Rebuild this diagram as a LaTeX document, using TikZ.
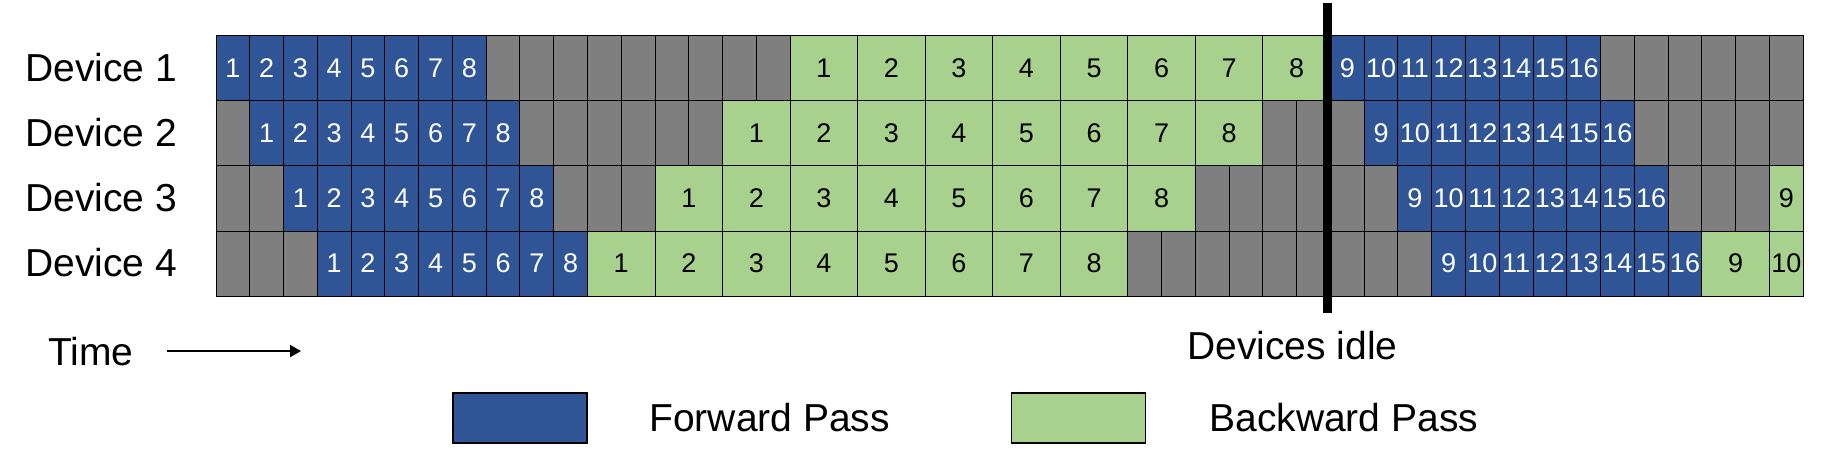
\documentclass[tikz,border=0pt]{standalone}
\usepackage{fontspec}
\setmainfont{Liberation Sans}
\usetikzlibrary{arrows.meta}
\definecolor{fwdblue}{HTML}{2F5597}
\definecolor{bwdgreen}{HTML}{A9D18E}
\definecolor{idlegray}{HTML}{7F7F7F}
\tikzset{
  cell/.style={draw=black, line width=0.5pt, inner sep=0pt, outer sep=0pt,
    minimum height=32.5pt, anchor=west, font=\fontsize{13.5}{14}\selectfont},
  idlebox/.style={cell, fill=idlegray, minimum width=16.885pt},
  fwd/.style={cell, fill=fwdblue, text=white, minimum width=16.885pt},
  bwd/.style={cell, fill=bwdgreen, minimum width=33.77pt},
  bwdcut/.style={cell, fill=bwdgreen, minimum width=16.885pt},
  txt/.style={inner sep=0pt, anchor=base west, font=\fontsize{19.5}{22}\selectfont},
  legbox/.style={draw=black, line width=0.7pt, minimum width=67pt, minimum height=25pt, inner sep=0pt},
  idleline/.style={line width=4.5pt},
  timearrow/.style={line width=1pt, -{Triangle[length=5.5pt,width=6pt]}}
}
\begin{document}
\begin{tikzpicture}[x=0.5pt, y=-0.5pt]
  \useasboundingbox (0,0) rectangle (1822,460);
  \foreach \d in {1,...,4} {
    \pgfmathsetmacro\yc{68.5+65*(\d-1)}
    \node[txt] (dev\d) at (25,{\yc+13.5}) {Device \d};
    \foreach \u in {0,...,46}
      \node[idlebox] (g\d-\u) at ({216+33.77*\u},\yc) {};
    \foreach \k in {1,...,8}
      \node[fwd] (f\d-\k) at ({216+33.77*(\d+\k-2)},\yc) {\k};
    \foreach \k in {1,...,8}
      \node[bwd] (b\d-\k) at ({216+33.77*(17-2*\d+2*\k)},\yc) {\k};
    \foreach \k in {9,...,16}
      \node[fwd] (f\d-\k) at ({216+33.77*(23+\d+\k)},\yc) {\k};
  }
  \node[bwdcut] (b3-9) at ({216+33.77*46},198.5) {9};
  \node[bwd] (b4-9) at ({216+33.77*44},263.5) {9};
  \node[bwdcut] (b4-10) at ({216+33.77*46},263.5) {10};
  \coordinate (idletop) at (1327.5,3);
  \coordinate (idlebot) at (1327.5,313);
  \draw[idleline] (idletop) -- (idlebot);
  \node[txt] (idle) at (1187,359) {Devices idle};
  \node[txt] (time) at (48,365) {Time};
  \coordinate (timeend) at ([xshift=83.5pt]time.east);
  \draw[timearrow, shorten <=16.5pt] (time.east) -- (timeend);
  \node[legbox, fill=fwdblue] (legfwd) at (520,418) {};
  \node[txt] (legfwdtxt) at (649,431) {Forward Pass};
  \node[legbox, fill=bwdgreen] (legbwd) at (1078.5,418) {};
  \node[txt] (legbwdtxt) at (1209,431) {Backward Pass};
\end{tikzpicture}
\end{document}
